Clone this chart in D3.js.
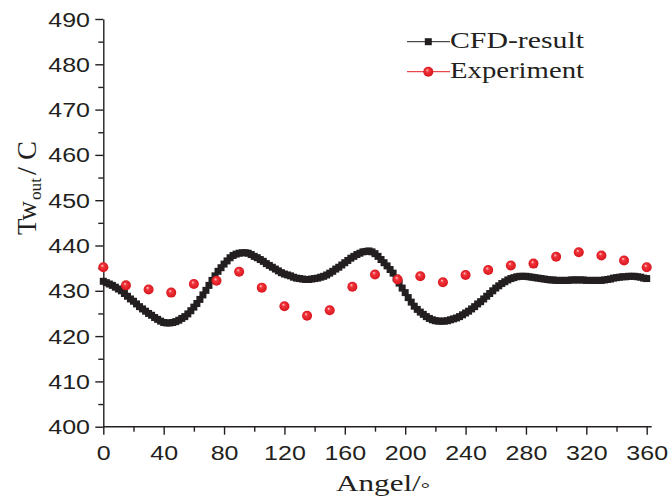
<!DOCTYPE html>
<html>
<head>
<meta charset="utf-8">
<script src="https://cdn.jsdelivr.net/npm/d3@7"></script>
<style>
  body { margin: 0; background: #fff; }
  svg { display: block; }
</style>
</head>
<body>
<svg id="chart" width="668" height="499"></svg>
<script>
// ------------------ data ------------------ //
// CFD result, one value every 2 degrees (0..360)
const cfdAngles = d3.range(0, 361, 2);
const cfdValues = [
    432.1, 431.8, 431.5, 431.2, 430.8, 430.4, 430.0, 429.4, 428.8, 428.2,
    427.7, 427.1, 426.5, 426.0, 425.5, 425.0, 424.6, 424.1, 423.7, 423.3,
    423.0, 422.9, 422.9, 423.0, 423.2, 423.5, 423.9, 424.3, 424.9, 425.6,
    426.4, 427.2, 428.1, 429.1, 430.1, 431.2, 432.3, 433.3, 434.3, 435.1,
    435.9, 436.6, 437.3, 437.8, 438.1, 438.3, 438.4, 438.4, 438.3, 438.0,
    437.6, 437.3, 436.9, 436.5, 436.0, 435.6, 435.2, 434.8, 434.4, 434.0,
    433.7, 433.5, 433.3, 433.0, 432.8, 432.7, 432.6, 432.5, 432.5, 432.6,
    432.7, 432.8, 433.0, 433.2, 433.5, 433.9, 434.3, 434.8, 435.2, 435.7,
    436.2, 436.7, 437.2, 437.6, 438.0, 438.3, 438.6, 438.7, 438.8, 438.6,
    438.2, 437.6, 436.9, 436.2, 435.5, 434.7, 433.9, 432.8, 431.7, 430.6,
    429.6, 428.5, 427.5, 426.6, 425.9, 425.3, 424.8, 424.3, 423.9, 423.6,
    423.4, 423.3, 423.3, 423.3, 423.4, 423.6, 423.8, 424.0, 424.3, 424.7,
    425.1, 425.5, 426.0, 426.5, 427.1, 427.6, 428.2, 428.8, 429.4, 430.0,
    430.6, 431.1, 431.6, 432.0, 432.4, 432.7, 432.9, 433.1, 433.2, 433.2,
    433.2, 433.1, 433.0, 432.9, 432.8, 432.7, 432.6, 432.5, 432.4, 432.4,
    432.3, 432.3, 432.3, 432.3, 432.3, 432.4, 432.4, 432.4, 432.4, 432.4,
    432.3, 432.3, 432.3, 432.3, 432.3, 432.3, 432.4, 432.5, 432.6, 432.8,
    432.9, 433.0, 433.1, 433.1, 433.2, 433.2, 433.2, 433.1, 433.0, 432.8,
    432.7
];

// Experiment, every 15 degrees
const expAngles = d3.range(0, 361, 15);
const expValues = [
    435.2, 431.2, 430.3, 429.6, 431.5, 432.2, 434.2, 430.7, 426.6, 424.5,
    425.7, 430.9, 433.6, 432.5, 433.2, 431.9, 433.5, 434.6, 435.6, 436.0,
    437.5, 438.5, 437.8, 436.7, 435.2
];

const xTicks = [0, 40, 80, 120, 160, 200, 240, 280, 320, 360];
const xMinorTicks = [20, 60, 100, 140, 180, 220, 260, 300, 340];
const yTicks = [400, 410, 420, 430, 440, 450, 460, 470, 480, 490];
const yMinorTicks = [405, 415, 425, 435, 445, 455, 465, 475, 485];

const seriesNames = ["CFD-result", "Experiment"];

// ------------------ setup ------------------ //
const svg = d3.select("#chart");
const ink = "#231f20";
const red = "#ec1c24";
const stretch = 1.25; // the picture is a bit wider than tall

const x = d3.scaleLinear().domain([0, 360]).range([103.3, 646.7]);
const y = d3.scaleLinear().domain([400, 490]).range([426.7, 19]);

// gradient for the shiny red balls
const defs = svg.append("defs");
const grad = defs.append("radialGradient")
    .attr("id", "ball")
    .attr("cx", "50%").attr("cy", "50%").attr("r", "55%")
    .attr("fx", "38%").attr("fy", "32%");
grad.append("stop").attr("offset", "0%").attr("stop-color", "#ffd0d0");
grad.append("stop").attr("offset", "30%").attr("stop-color", "#f2343b");
grad.append("stop").attr("offset", "100%").attr("stop-color", "#d4121a");

// ------------------ axes ------------------ //
const xAxis = svg.append("g")
    .attr("transform", `translate(0,${y(400)})`)
    .call(d3.axisBottom(x).tickValues(xTicks).tickSize(8).tickSizeOuter(0).tickFormat(d3.format("d")));
xAxis.append("g")
    .call(d3.axisBottom(x).tickValues(xMinorTicks).tickSize(5).tickFormat(""))
    .select(".domain").remove();
xAxis.select(".domain").attr("d", `M${x(0)},0H${x(360) + 5}`);

xAxis.selectAll(".tick text")
    .attr("y", 33)
    .attr("dy", null)
    .attr("transform", `scale(${stretch},1)`);

const yAxis = svg.append("g")
    .attr("transform", `translate(${x(0)},0)`)
    .call(d3.axisLeft(y).tickValues(yTicks).tickSize(8).tickSizeOuter(0));
yAxis.append("g")
    .call(d3.axisLeft(y).tickValues(yMinorTicks).tickSize(5).tickFormat(""))
    .select(".domain").remove();

yAxis.selectAll(".tick text")
    .attr("x", -13.3 / stretch)
    .attr("dy", "0.35em")
    .attr("transform", `scale(${stretch},1)`);

svg.selectAll(".domain, .tick line")
    .attr("stroke", ink)
    .attr("stroke-width", 1.4);
svg.selectAll(".tick text")
    .attr("fill", ink)
    .style("font-family", "'Liberation Sans', Arial, sans-serif")
    .style("font-size", "20px");

// ------------------ series ------------------ //
const cfd = cfdAngles.map((a, i) => ({ a, v: cfdValues[i] }));
const exp = expAngles.map((a, i) => ({ a, v: expValues[i] }));

svg.append("path")
    .datum(cfd)
    .attr("fill", "none")
    .attr("stroke", ink)
    .attr("stroke-width", 1)
    .attr("d", d3.line().x(d => x(d.a)).y(d => y(d.v)));

const sq = 7;
svg.append("g")
    .selectAll("rect")
    .data(cfd)
    .join("rect")
    .attr("x", d => x(d.a) - sq / 2)
    .attr("y", d => y(d.v) - sq / 2)
    .attr("width", sq)
    .attr("height", sq)
    .attr("fill", ink);

svg.append("g")
    .selectAll("circle")
    .data(exp)
    .join("circle")
    .attr("cx", d => x(d.a))
    .attr("cy", d => y(d.v))
    .attr("r", 5)
    .attr("fill", "url(#ball)");

// ------------------ titles ------------------ //
const serif = "'Liberation Serif', 'DejaVu Serif', serif";

const xTitle = svg.append("text")
    .attr("x", 336)
    .attr("y", 491)
    .attr("textLength", 94)
    .attr("lengthAdjust", "spacingAndGlyphs")
    .attr("fill", ink)
    .style("font-family", serif)
    .style("font-size", "23px");
xTitle.append("tspan").text("Angel/");
xTitle.append("tspan").attr("dy", 3).style("font-size", "17px").text("°");

// y title: rotated, the stretch makes the glyphs taller
const yTitle = svg.append("g")
    .attr("transform", `translate(36,0) scale(${stretch},1) rotate(-90)`)
    .attr("fill", ink)
    .style("font-family", serif);
yTitle.append("text")
    .attr("x", -235).attr("y", 0)
    .attr("textLength", 34)
    .attr("lengthAdjust", "spacingAndGlyphs")
    .style("font-size", "22px")
    .text("Tw");
yTitle.append("text")
    .attr("x", -200).attr("y", 4)
    .attr("textLength", 22)
    .attr("lengthAdjust", "spacingAndGlyphs")
    .style("font-size", "13px")
    .text("out");
yTitle.append("text")
    .attr("x", -175).attr("y", 0)
    .attr("textLength", 34)
    .attr("lengthAdjust", "spacingAndGlyphs")
    .style("font-size", "22px")
    .text("/ C");

// ------------------ legend ------------------ //
const legend = svg.append("g").attr("transform", "translate(407,0)");
const rows = [
    { name: seriesNames[0], ly: 41.7, ty: 48 },
    { name: seriesNames[1], ly: 71.7, ty: 78 }
];

legend.append("line")
    .attr("x1", 0).attr("x2", 43)
    .attr("y1", rows[0].ly).attr("y2", rows[0].ly)
    .attr("stroke", ink).attr("stroke-width", 1);
legend.append("rect")
    .attr("x", 21.3 - sq / 2).attr("y", rows[0].ly - sq / 2)
    .attr("width", sq).attr("height", sq)
    .attr("fill", ink);

legend.append("line")
    .attr("x1", 0).attr("x2", 43)
    .attr("y1", rows[1].ly).attr("y2", rows[1].ly)
    .attr("stroke", red).attr("stroke-width", 1);
legend.append("circle")
    .attr("cx", 21.3).attr("cy", rows[1].ly)
    .attr("r", 5)
    .attr("fill", "url(#ball)");

legend.selectAll("text.name")
    .data(rows)
    .join("text")
    .attr("class", "name")
    .attr("x", 43)
    .attr("y", d => d.ty)
    .attr("textLength", 134)
    .attr("lengthAdjust", "spacingAndGlyphs")
    .attr("fill", ink)
    .style("font-family", serif)
    .style("font-size", "23px")
    .text(d => d.name);
</script>
</body>
</html>
